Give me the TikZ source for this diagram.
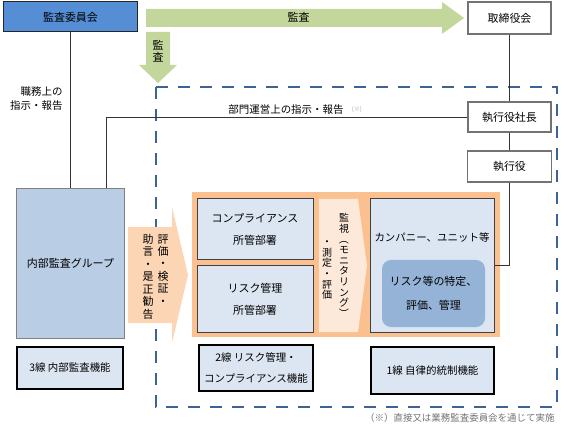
\documentclass[tikz,border=0pt]{standalone}
\usepackage{fontspec}
\setmainfont{Noto Sans CJK JP}
\usepackage{graphicx}

\definecolor{kansablue}{HTML}{558ED5}
\definecolor{greenarrow}{HTML}{C3D69B}
\definecolor{naibublue}{HTML}{B9CDE5}
\definecolor{paleblue}{HTML}{DCE6F2}
\definecolor{orangebg}{HTML}{FAC090}
\definecolor{peach}{HTML}{FCD5B5}
\definecolor{palepeach}{HTML}{FDE9D9}
\definecolor{riskblue}{HTML}{95B3D7}
\definecolor{dashblue}{HTML}{3B6496}

% rotated bracket for vertical text
\newcommand{\vopen}{\rotatebox[origin=c]{-90}{（}}
\newcommand{\vclose}{\rotatebox[origin=c]{-90}{）}}

\tikzset{
  txt/.style={font=\fontsize{11}{13}\selectfont},
  plainbox/.style={txt, draw=black!55, line width=1.2bp, fill=white, inner sep=0pt},
  deptbox/.style={txt, draw=black!75, line width=1bp, fill=paleblue, inner sep=0pt,
    align=center, font=\fontsize{11}{22}\selectfont},
  linebox/.style={txt, draw=black, line width=2.6bp, fill=paleblue, inner sep=0pt,
    align=center, font=\fontsize{10.5}{21}\selectfont},
  vtext/.style={align=center, inner sep=0pt, font=\fontsize{11}{12.5}\selectfont},
  conn/.style={draw=black!80, line width=0.8bp},
  dashbox/.style={draw=dashblue, line width=2.6bp, dash pattern=on 12bp off 10bp},
}

\begin{document}
\begin{tikzpicture}[x=1bp,y=-1bp]
  \useasboundingbox (0,0) rectangle (567,433);

  % -- Green audit arrows --
  \fill[greenarrow] (146,9) -- (442,9) -- (442,2) -- (464,18) -- (442,34) -- (442,27) -- (146,27) -- cycle;
  \node[txt] (kansaright) at (298.5,17.5) {監査};
  \fill[greenarrow] (146,32) -- (170,32) -- (170,65) -- (177,65) -- (158,83) -- (139,65) -- (146,65) -- cycle;
  \node[vtext] (kansadown) at (158,51) {監\\査};

  % -- Dashed frame round the executive side --
  \draw[dashbox] (156,87) rectangle (557,407);

  % -- Top boxes --
  \node[txt, draw=black!85, line width=1bp, fill=kansablue, minimum width=133bp, minimum height=30bp]
    (kansaiin) at (70.5,17) {監査委員会};
  \node[plainbox, minimum width=83bp, minimum height=32bp] (torishimari) at (509.5,18) {取締役会};
  \node[plainbox, minimum width=83bp, minimum height=30bp] (shacho) at (509.5,117) {執行役社長};
  \node[plainbox, minimum width=84bp, minimum height=31bp] (shikko) at (509.5,166.5) {執行役};

  % -- Internal audit (3rd line) --
  \node[txt, draw=black!50, line width=1bp, fill=naibublue, minimum width=107bp, minimum height=149bp]
    (naibu) at (70.5,263.5) {内部監査グループ};
  \node[linebox, minimum width=106bp, minimum height=42bp] (sansen) at (70,368) {3線 内部監査機能};

  % -- Evaluation arrow --
  \fill[peach] (128,227) -- (172,227) -- (172,207) -- (188,275) -- (172,343) -- (172,323) -- (128,323) -- cycle;
  \node[vtext, anchor=north] (hyoka) at (163,234) {評\\価\\・\\検\\証\\・};
  \node[vtext, anchor=north] (jogen) at (148,234) {助\\言\\・\\是\\正\\勧\\告};

  % -- 2nd line and 1st line block --
  \fill[orangebg] (192,192) rectangle (500,337);
  \node[deptbox, minimum width=116bp, minimum height=60bp] (compliance) at (255,229) {コンプライアンス\\所管部署};
  \node[deptbox, minimum width=116bp, minimum height=66bp] (risk) at (255,299) {リスク管理\\所管部署};
  \fill[palepeach] (319,199) -- (358,199) -- (367,265.5) -- (358,332) -- (319,332) -- cycle;
  \node[vtext, font=\fontsize{10}{10.7}\selectfont] (kanshi) at (344,266)
    {監\\視\\\vopen\\モ\\ニ\\タ\\リ\\ン\\グ\\\vclose};
  \node[vtext, font=\fontsize{10}{10.7}\selectfont] (sokutei) at (327,270) {・\\測\\定\\・\\評\\価};
  \node[deptbox, minimum width=124bp, minimum height=133bp] (company) at (432,265.5) {};
  \node[txt, font=\fontsize{10.5}{13}\selectfont] (companylabel) at (432,237) {カンパニー、ユニット等};
  \node[txt, fill=riskblue, rounded corners=9bp, minimum width=103bp, minimum height=67bp,
    align=center, inner sep=0pt, font=\fontsize{11}{24}\selectfont] (riskid) at (433.5,293.5) {リスク等の特定、\\評価、管理};

  \node[linebox, minimum width=114bp, minimum height=46bp] (nisen) at (256,368) {2線 リスク管理・\\コンプライアンス機能};
  \node[linebox, minimum width=123bp, minimum height=47bp] (issen) at (432.5,370.5) {1線 自律的統制機能};

  % -- Reporting lines --
  \draw[conn] (kansaiin.south) -- (naibu.north);
  \node[txt, align=right, anchor=east, font=\fontsize{10.5}{14}\selectfont] (shokumu) at (66,99) {職務上の\\指示・報告};
  \draw[conn] ([xshift=35.5bp]naibu.north) |- (shacho.west);
  \node[txt, font=\fontsize{10.5}{13}\selectfont] (bumon) at (286,110) {部門運営上の指示・報告};
  \node[text=black!35, font=\fontsize{6}{7}\selectfont] (kome) at (357,110) {(※)};
  \draw[conn] (torishimari.south) -- (shacho.north);
  \draw[conn] (shacho.south) -- (shikko.north);
  \draw[conn] (shikko.south) |- (company.east);

  % -- Footnote --
  \node[anchor=east, text=black!55, font=\fontsize{9.5}{11}\selectfont] (footnote) at (558,418)
    {（※）直接又は業務監査委員会を通じて実施};
\end{tikzpicture}
\end{document}
